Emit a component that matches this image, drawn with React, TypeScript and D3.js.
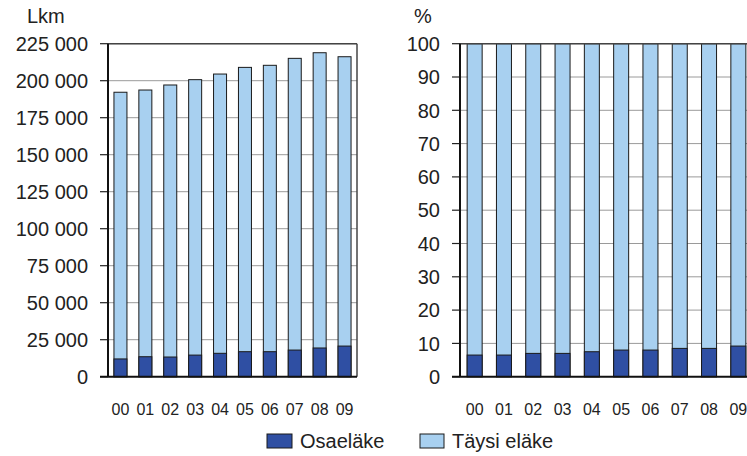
import React from "react";
import * as d3 from "d3";

const years = ["00", "01", "02", "03", "04", "05", "06", "07", "08", "09"];
const osaelake = [12000, 13500, 13300, 14600, 15800, 16900, 16900, 18000, 19400, 20700];
const total = [192200, 193700, 197100, 200700, 204500, 209000, 210400, 215100, 218900, 216200];
const osaPct = [6.5, 6.5, 7.0, 7.0, 7.5, 8.0, 8.0, 8.5, 8.5, 9.2];
const leftTicks = [0, 25000, 50000, 75000, 100000, 125000, 150000, 175000, 200000, 225000];
const rightTicks = [0, 10, 20, 30, 40, 50, 60, 70, 80, 90, 100];
const seriesNames = ["Osaeläke", "Täysi eläke"];

const DARK = "#2f4fa3";
const LIGHT = "#a8d0f0";
const FONT = "'Liberation Sans', Arial, sans-serif";

const fmt = (v: number) => {
  const s = String(v);
  return s.length > 3 ? s.slice(0, s.length - 3) + " " + s.slice(s.length - 3) : s;
};

type PanelProps = {
  x0: number;
  x1: number;
  yMax: number;
  ticks: number[];
  low: number[];
  top: number[];
  barW: number;
  unit: string;
  unitX: number;
  labelRight: number;
  tickFmt: (v: number) => string;
};

function Panel(p: PanelProps) {
  const yTop = 43.7;
  const yBot = 376.7;
  const x = d3.scaleBand<string>().domain(years).range([p.x0, p.x1]);
  const y = d3.scaleLinear().domain([0, p.yMax]).range([yBot, yTop]);
  const bw = p.barW;
  return (
    <g>
      <text x={p.unitX} y={23} fontSize={20} fontFamily={FONT} fill="#222">{p.unit}</text>
      {p.ticks.map((t) => (
        <g key={t}>
          {t > 0 && <line x1={p.x0} x2={p.x1} y1={y(t)} y2={y(t)} stroke="#9a9a9a" strokeWidth={1} />}
          <line x1={p.x0 - 8} x2={p.x0} y1={y(t)} y2={y(t)} stroke="#222" strokeWidth={1.2} />
          <text x={p.labelRight} y={y(t)} dy="0.36em" textAnchor="end" fontSize={20} fontFamily={FONT} fill="#222">
            {p.tickFmt(t)}
          </text>
        </g>
      ))}
      {years.map((yr, i) => {
        const cx = (x(yr) as number) + x.bandwidth() / 2;
        return (
          <g key={yr}>
            <rect x={cx - bw / 2} y={y(p.top[i])} width={bw} height={y(0) - y(p.top[i])} fill={LIGHT} stroke="#1a1a1a" strokeWidth={1} />
            <rect x={cx - bw / 2} y={y(p.low[i])} width={bw} height={y(0) - y(p.low[i])} fill={DARK} stroke="#1a1a1a" strokeWidth={1} />
            <text x={cx} y={415} textAnchor="middle" fontSize={16} fontFamily={FONT} fill="#222">{yr}</text>
          </g>
        );
      })}
      <line x1={p.x0} x2={p.x1} y1={yTop} y2={yTop} stroke="#444" strokeWidth={1.5} />
      <line x1={p.x1} x2={p.x1} y1={yTop} y2={yBot} stroke="#444" strokeWidth={1.5} />
      <line x1={p.x0} x2={p.x0} y1={yTop} y2={yBot} stroke="#111" strokeWidth={2} />
      <line x1={p.x0 - 8} x2={p.x1} y1={yBot} y2={yBot} stroke="#111" strokeWidth={2} />
    </g>
  );
}

export default function App() {
  const full = osaPct.map(() => 100);
  return (
    <svg width={747} height={456} style={{ position: "absolute", left: 0, top: 0, background: "#fff" }}>
      <Panel x0={108} x1={357} yMax={225000} ticks={leftTicks} low={osaelake} top={total} barW={13} unit="Lkm" unitX={27} labelRight={88} tickFmt={fmt} />
      <Panel x0={460} x1={753} yMax={100} ticks={rightTicks} low={osaPct} top={full} barW={15} unit="%" unitX={414} labelRight={440} tickFmt={(v) => String(v)} />
      <g>
        <rect x={267} y={434} width={25} height={14} fill={DARK} stroke="#1a1a1a" strokeWidth={1} />
        <text x={300} y={448} fontSize={20} fontFamily={FONT} fill="#222">{seriesNames[0]}</text>
        <rect x={420} y={434} width={24} height={14} fill={LIGHT} stroke="#1a1a1a" strokeWidth={1} />
        <text x={452} y={448} fontSize={20} fontFamily={FONT} fill="#222">{seriesNames[1]}</text>
      </g>
    </svg>
  );
}
